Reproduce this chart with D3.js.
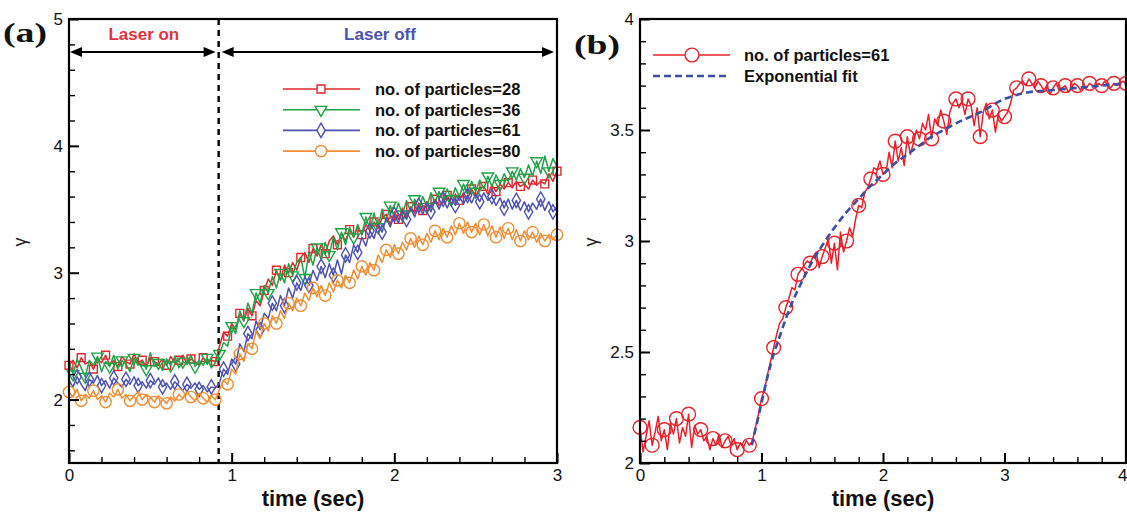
<!DOCTYPE html>
<html>
<head>
<meta charset="utf-8">
<script src="https://cdn.jsdelivr.net/npm/d3@7"></script>
<style>
  body { margin: 0; background: #fff; }
  svg { display: block; font-family: "Liberation Sans", Arial, Helvetica, sans-serif; }
</style>
</head>
<body>
<svg id="chart" width="1127" height="514"></svg>
<script>
// ---------- data ----------
// Panel (a): gamma vs time, sampled every 0.025 s from 0 to 3 s
const stepA = 0.025;
const laserOffTime = 0.92;

const gamma28 = [
  2.27,2.31,2.25,2.33,2.28,2.30,2.24,2.32,2.29,2.35,
  2.27,2.31,2.26,2.34,2.30,2.28,2.36,2.29,2.31,2.26,
  2.33,2.30,2.28,2.32,2.27,2.34,2.29,2.31,2.35,2.28,
  2.32,2.30,2.27,2.33,2.29,2.31,2.30,
  2.42,2.53,2.50,2.60,2.55,2.68,2.62,2.72,2.66,2.78,
  2.74,2.86,2.95,2.90,3.02,2.94,3.06,3.00,3.08,3.02,
  3.12,3.16,3.08,3.19,3.13,3.22,3.15,3.25,3.29,3.22,
  3.31,3.25,3.34,3.28,3.36,3.30,3.38,3.33,3.40,3.35,
  3.43,3.46,3.38,3.48,3.42,3.51,3.44,3.52,3.47,3.55,
  3.49,3.56,3.51,3.58,3.53,3.55,3.61,3.54,3.62,3.57,
  3.63,3.58,3.66,3.60,3.67,3.68,3.62,3.69,3.64,3.70,
  3.66,3.71,3.67,3.72,3.68,3.70,3.66,3.73,3.69,3.72,
  3.70,3.78,3.72,3.80
];

const gamma36 = [
  2.30,2.20,2.32,2.25,2.18,2.31,2.27,2.34,2.22,2.30,
  2.26,2.35,2.24,2.31,2.28,2.22,2.33,2.27,2.30,2.24,
  2.37,2.26,2.29,2.23,2.32,2.27,2.34,2.25,2.30,2.28,
  2.35,2.26,2.31,2.27,2.33,2.25,2.29,
  2.36,2.45,2.42,2.58,2.52,2.70,2.62,2.76,2.68,2.84,
  2.76,2.90,2.84,2.97,2.88,3.00,2.92,3.07,2.98,3.08,
  3.12,2.96,3.16,3.06,3.20,3.10,3.24,3.14,3.28,3.18,
  3.32,3.22,3.36,3.28,3.38,3.30,3.44,3.34,3.47,3.36,
  3.50,3.40,3.53,3.44,3.55,3.46,3.57,3.48,3.58,3.50,
  3.60,3.52,3.63,3.55,3.64,3.57,3.66,3.58,3.67,3.60,
  3.70,3.62,3.72,3.64,3.73,3.66,3.76,3.68,3.77,3.70,
  3.78,3.72,3.80,3.73,3.82,3.75,3.85,3.76,3.88,3.78,
  3.92,3.80,3.90,3.84
];

const gamma61 = [
  2.15,2.10,2.18,2.12,2.07,2.16,2.13,2.19,2.11,2.15,
  2.09,2.17,2.13,2.10,2.16,2.12,2.18,2.11,2.14,2.09,
  2.15,2.12,2.17,2.10,2.13,2.08,2.14,2.11,2.07,2.12,
  2.09,2.13,2.08,2.11,2.06,2.10,2.09,
  2.13,2.24,2.20,2.32,2.28,2.44,2.38,2.52,2.48,2.62,
  2.55,2.68,2.64,2.76,2.70,2.82,2.74,2.88,2.80,2.92,
  2.86,2.97,2.90,3.02,2.94,3.05,2.96,3.07,2.98,3.10,
  2.99,3.14,3.08,3.22,3.16,3.28,3.21,3.33,3.27,3.38,
  3.32,3.43,3.36,3.46,3.39,3.49,3.42,3.51,3.44,3.53,
  3.46,3.55,3.48,3.57,3.50,3.58,3.51,3.59,3.53,3.60,
  3.54,3.61,3.55,3.62,3.56,3.63,3.57,3.60,3.53,3.59,
  3.51,3.58,3.50,3.57,3.49,3.56,3.48,3.55,3.50,3.58,
  3.49,3.56,3.48,3.52
];

const gamma80 = [
  2.06,2.02,2.08,1.99,2.04,2.01,2.07,2.00,2.03,1.98,
  2.05,2.02,2.08,2.01,2.04,1.99,2.03,2.06,2.00,2.04,
  2.02,1.98,2.03,2.00,1.97,2.02,1.99,2.04,2.01,2.06,
  2.02,1.99,2.05,2.01,1.98,2.03,2.00,
  2.08,2.15,2.12,2.24,2.20,2.36,2.30,2.44,2.40,2.54,
  2.48,2.60,2.54,2.66,2.60,2.70,2.64,2.76,2.70,2.80,
  2.74,2.84,2.78,2.88,2.81,2.90,2.82,2.92,2.85,2.94,
  2.88,2.98,2.92,3.02,2.95,3.05,2.98,3.08,3.02,3.14,
  3.08,3.18,3.12,3.22,3.15,3.24,3.18,3.27,3.20,3.29,
  3.22,3.31,3.24,3.33,3.26,3.35,3.28,3.37,3.30,3.39,
  3.31,3.40,3.32,3.39,3.30,3.38,3.29,3.37,3.28,3.36,
  3.27,3.35,3.26,3.34,3.25,3.33,3.26,3.32,3.24,3.31,
  3.25,3.30,3.26,3.30
];

// Panel (b): 61 particles, sampled every 0.025 s from 0 to 4 s
const stepB = 0.025;
const gamma61b = [
  2.16,2.05,2.12,2.19,2.08,2.14,2.21,2.10,2.15,2.06,
  2.18,2.13,2.20,2.09,2.16,2.12,2.22,2.07,2.17,2.13,
  2.15,2.10,2.12,2.06,2.11,2.08,2.13,2.07,2.10,2.12,
  2.08,2.11,2.06,2.09,2.07,2.10,2.08,
  2.10,2.16,2.22,2.29,2.33,2.40,2.46,2.52,2.58,2.63,
  2.65,2.70,2.74,2.79,2.78,2.85,2.87,2.89,2.91,2.90,
  2.93,2.95,2.88,2.93,2.97,3.01,2.90,2.99,2.87,3.04,
  2.95,3.00,3.06,3.02,3.10,3.16,3.15,3.22,3.24,3.28,
  3.33,3.32,3.36,3.30,3.31,3.40,3.33,3.45,3.36,3.42,
  3.34,3.47,3.39,3.44,3.50,3.46,3.53,3.50,3.57,3.46,
  3.55,3.52,3.59,3.54,3.48,3.58,3.62,3.64,3.60,3.63,
  3.57,3.64,3.61,3.52,3.60,3.47,3.58,3.62,3.55,3.59,
  3.49,3.57,3.54,3.56,3.58,3.62,3.68,3.69,3.71,3.72,
  3.70,3.73,3.71,3.69,3.72,3.70,3.68,3.70,3.66,3.69,
  3.71,3.68,3.69,3.70,3.67,3.69,3.71,3.70,3.68,3.70,
  3.69,3.71,3.70,3.69,3.71,3.70,3.72,3.70,3.69,3.71,
  3.70,3.71,3.72,3.71
];

// Exponential fit curve (time, gamma)
const fitTime  = [0.92,0.95,1.0,1.05,1.1,1.15,1.2,1.25,1.3,1.4,1.5,1.6,1.7,1.8,1.9,2.0,2.1,2.2,2.3,2.4,2.5,2.6,2.8,3.0,3.2,3.4,3.6,3.8,4.0];
const fitGamma = [2.08,2.15,2.27,2.39,2.49,2.57,2.65,2.72,2.78,2.89,2.98,3.06,3.13,3.19,3.25,3.30,3.35,3.39,3.43,3.47,3.50,3.53,3.58,3.64,3.67,3.68,3.69,3.70,3.71];

// Tick labels
const ticksAX = [0, 1, 2, 3];
const ticksAY = [2, 3, 4, 5];
const ticksBX = [0, 1, 2, 3, 4];
const ticksBY = [2, 2.5, 3, 3.5, 4];

const seriesA = [
  { name: "no. of particles=28", values: gamma28, color: "#e5262d", symbol: d3.symbolSquare,   size: 62, rotate: 0,   offset: 0 },
  { name: "no. of particles=36", values: gamma36, color: "#1ea444", symbol: d3.symbolTriangle, size: 58, rotate: 180, offset: 1 },
  { name: "no. of particles=61", values: gamma61, color: "#4c52b6", symbol: d3.symbolDiamond,  size: 60, rotate: 0,   offset: 2 },
  { name: "no. of particles=80", values: gamma80, color: "#f28c30", symbol: d3.symbolCircle,   size: 100, rotate: 0,  offset: 0 }
];

// ---------- layout ----------
const svg = d3.select("#chart");
svg.append("rect").attr("width", 1127).attr("height", 514).attr("fill", "#fff");

const xA = d3.scaleLinear().domain([0, 3]).range([69, 557]);
const yA = d3.scaleLinear().domain([1.5, 5]).range([463, 19]);
const xB = d3.scaleLinear().domain([0, 4]).range([640, 1126]);
const yB = d3.scaleLinear().domain([2, 4]).range([463, 19]);

function minorTicks(lo, hi, step, majors) {
  const out = [];
  for (let k = Math.round(lo / step); k * step <= hi + 1e-9; k++) {
    const v = +(k * step).toFixed(4);
    if (v < lo - 1e-9) continue;
    if (!majors.some(m => Math.abs(m - v) < 1e-6)) out.push(v);
  }
  return out;
}

function drawAxes(g, x, y, xt, yt, xMinorStep, yMinorStep, yFmt) {
  const [x0, x1] = x.range();
  const [yb, yt0] = y.range();
  const xd = x.domain(), yd = y.domain();

  // minor ticks
  g.append("g").attr("transform", `translate(0,${yb})`)
    .call(d3.axisBottom(x).tickValues(minorTicks(xd[0], xd[1], xMinorStep, xt)).tickSize(-6).tickFormat(""))
    .call(s => s.select(".domain").remove())
    .call(s => s.selectAll("line").attr("stroke", "#000").attr("stroke-width", 1.4));
  g.append("g").attr("transform", `translate(${x0},0)`)
    .call(d3.axisLeft(y).tickValues(minorTicks(yd[0], yd[1], yMinorStep, yt)).tickSize(-6).tickFormat(""))
    .call(s => s.select(".domain").remove())
    .call(s => s.selectAll("line").attr("stroke", "#000").attr("stroke-width", 1.4));

  // major ticks with labels
  const bottom = g.append("g").attr("transform", `translate(0,${yb})`)
    .call(d3.axisBottom(x).tickValues(xt).tickSize(-10).tickPadding(6).tickFormat(d3.format("d")))
    .call(s => s.select(".domain").remove())
    .call(s => s.selectAll("line").attr("stroke", "#000").attr("stroke-width", 2))
    .call(s => s.selectAll("text").attr("font-size", 17).attr("fill", "#111")
      .attr("font-family", "'Liberation Sans', Arial, sans-serif"));
  g.append("g").attr("transform", `translate(${x0},0)`)
    .call(d3.axisLeft(y).tickValues(yt).tickSize(-10).tickPadding(6).tickFormat(yFmt))
    .call(s => s.select(".domain").remove())
    .call(s => s.selectAll("line").attr("stroke", "#000").attr("stroke-width", 2))
    .call(s => s.selectAll("text").attr("font-size", 17).attr("fill", "#111")
      .attr("font-family", "'Liberation Sans', Arial, sans-serif"));

  // frame
  g.append("rect")
    .attr("x", x0).attr("y", yt0).attr("width", x1 - x0).attr("height", yb - yt0)
    .attr("fill", "none").attr("stroke", "#000").attr("stroke-width", 2.2);
  return bottom;
}

function drawSeries(g, x, y, times, vals, color, symbol, size, rotate, every, offset, width) {
  const line = d3.line().x((d, i) => x(times[i])).y(d => y(d));
  g.append("path").datum(vals)
    .attr("d", line).attr("fill", "none")
    .attr("stroke", color).attr("stroke-width", width).attr("stroke-linejoin", "round");
  const pts = vals.map((v, i) => ({ t: times[i], v, i })).filter(d => (d.i - offset) % every === 0 && d.i >= offset);
  g.selectAll(null).data(pts).enter().append("path")
    .attr("d", d3.symbol().type(symbol).size(size))
    .attr("transform", d => `translate(${x(d.t)},${y(d.v)}) rotate(${rotate})`)
    .attr("fill", "none").attr("stroke", color).attr("stroke-width", 1.4);
}

// ---------- panel (a) ----------
const gA = svg.append("g");
const timesA = gamma28.map((_, i) => i * stepA);

// laser switch-off marker line
gA.append("line")
  .attr("x1", xA(laserOffTime)).attr("x2", xA(laserOffTime))
  .attr("y1", yA(5)).attr("y2", yA(1.5))
  .attr("stroke", "#000").attr("stroke-width", 2.4).attr("stroke-dasharray", "6,5");

seriesA.forEach(s => drawSeries(gA, xA, yA, timesA, s.values, s.color, s.symbol, s.size, s.rotate, 3, s.offset, 1.5));

drawAxes(gA, xA, yA, ticksAX, ticksAY, 0.2, 0.2, d3.format("d"));

// double-headed arrows for the laser on / off intervals
function arrow(g, xStart, xEnd, yPos) {
  const hl = 12, hw = 5;
  g.append("line").attr("x1", xStart + hl - 2).attr("x2", xEnd - hl + 2)
    .attr("y1", yPos).attr("y2", yPos).attr("stroke", "#000").attr("stroke-width", 2.2);
  g.append("path").attr("d", `M${xStart},${yPos} L${xStart + hl},${yPos - hw} L${xStart + hl},${yPos + hw} Z`).attr("fill", "#000");
  g.append("path").attr("d", `M${xEnd},${yPos} L${xEnd - hl},${yPos - hw} L${xEnd - hl},${yPos + hw} Z`).attr("fill", "#000");
}
arrow(gA, xA(0) + 1, xA(laserOffTime) - 3, 52);
arrow(gA, xA(laserOffTime) + 3, xA(3) - 3, 52);

gA.append("text").attr("x", (xA(0) + xA(laserOffTime)) / 2).attr("y", 40)
  .attr("text-anchor", "middle").attr("font-size", 17).attr("font-weight", "bold")
  .attr("fill", "#e3323c").text("Laser on");
gA.append("text").attr("x", 380).attr("y", 40)
  .attr("text-anchor", "middle").attr("font-size", 17).attr("font-weight", "bold")
  .attr("fill", "#4a52b4").text("Laser off");

// legend (a)
const legA = gA.append("g");
seriesA.forEach((s, k) => {
  const yy = 89 + k * 20.7;
  legA.append("line").attr("x1", 283).attr("x2", 360).attr("y1", yy).attr("y2", yy)
    .attr("stroke", s.color).attr("stroke-width", 1.6);
  legA.append("path").attr("d", d3.symbol().type(s.symbol).size(s.size))
    .attr("transform", `translate(321,${yy}) rotate(${s.rotate})`)
    .attr("fill", "#fff").attr("stroke", s.color).attr("stroke-width", 1.4);
  legA.append("text").attr("x", 375).attr("y", yy + 6)
    .attr("font-size", 16.5).attr("font-weight", "bold").attr("fill", "#111").text(s.name);
});

gA.append("text").attr("x", 3).attr("y", 42)
  .attr("font-family", "'Liberation Serif', 'Times New Roman', serif")
  .attr("font-size", 28).attr("font-weight", "bold").attr("fill", "#111")
  .attr("textLength", 44).attr("lengthAdjust", "spacingAndGlyphs").text("(a)");
gA.append("text").attr("transform", "translate(26,242) rotate(-90)")
  .attr("text-anchor", "middle").attr("font-size", 18).attr("fill", "#222").text("γ");
gA.append("text").attr("x", (xA(0) + xA(3)) / 2).attr("y", 506)
  .attr("text-anchor", "middle").attr("font-size", 22).attr("font-weight", "bold").attr("fill", "#111")
  .text("time (sec)");

// ---------- panel (b) ----------
const gB = svg.append("g");
const timesB = gamma61b.map((_, i) => i * stepB);

drawSeries(gB, xB, yB, timesB, gamma61b, "#ec2228", d3.symbolCircle, 150, 0, 4, 0, 1.5);

gB.append("path").datum(fitGamma)
  .attr("d", d3.line().curve(d3.curveMonotoneX).x((d, i) => xB(fitTime[i])).y(d => yB(d)))
  .attr("fill", "none").attr("stroke", "#3b4ea6").attr("stroke-width", 2.6).attr("stroke-dasharray", "7,4");

const bottomB = drawAxes(gB, xB, yB, ticksBX, ticksBY, 0.2, 0.1, d => d3.format("~g")(d));
// last time label sits at the right edge of the canvas
bottomB.selectAll(".tick text").filter(d => d === 4).attr("text-anchor", "end").attr("x", 1);

const legB = gB.append("g");
legB.append("line").attr("x1", 653).attr("x2", 730).attr("y1", 55).attr("y2", 55)
  .attr("stroke", "#ec2228").attr("stroke-width", 1.6);
legB.append("path").attr("d", d3.symbol().type(d3.symbolCircle).size(150))
  .attr("transform", "translate(692,55)").attr("fill", "#fff").attr("stroke", "#ec2228").attr("stroke-width", 1.4);
legB.append("text").attr("x", 744).attr("y", 61).attr("font-size", 16.5).attr("font-weight", "bold")
  .attr("fill", "#111").text("no. of particles=61");
legB.append("line").attr("x1", 653).attr("x2", 730).attr("y1", 76).attr("y2", 76)
  .attr("stroke", "#3b4ea6").attr("stroke-width", 2.6).attr("stroke-dasharray", "7,4");
legB.append("text").attr("x", 744).attr("y", 82).attr("font-size", 16.5).attr("font-weight", "bold")
  .attr("fill", "#111").text("Exponential fit");

gB.append("text").attr("x", 574).attr("y", 54)
  .attr("font-family", "'Liberation Serif', 'Times New Roman', serif")
  .attr("font-size", 28).attr("font-weight", "bold").attr("fill", "#111")
  .attr("textLength", 46).attr("lengthAdjust", "spacingAndGlyphs").text("(b)");
gB.append("text").attr("transform", "translate(597,242) rotate(-90)")
  .attr("text-anchor", "middle").attr("font-size", 18).attr("fill", "#222").text("γ");
gB.append("text").attr("x", (xB(0) + xB(4)) / 2).attr("y", 506)
  .attr("text-anchor", "middle").attr("font-size", 22).attr("font-weight", "bold").attr("fill", "#111")
  .text("time (sec)");
</script>
</body>
</html>
